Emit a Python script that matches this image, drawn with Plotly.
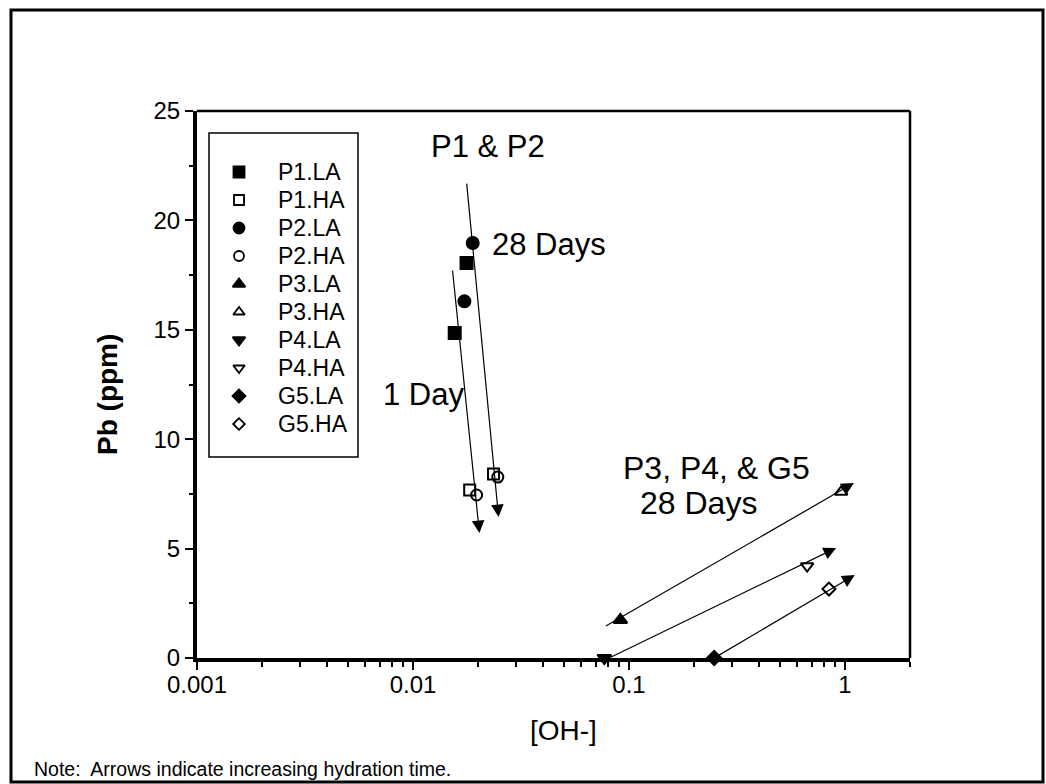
import numpy as np
import plotly.graph_objects as go

# ---------------- data ----------------
series_names = ["P1.LA", "P1.HA", "P2.LA", "P2.HA", "P3.LA",
                "P3.HA", "P4.LA", "P4.HA", "G5.LA", "G5.HA"]

p1_la_oh = [0.0156, 0.0177]
p1_la_pb = [14.85, 18.05]
p1_ha_oh = [0.0183, 0.0236]
p1_ha_pb = [7.68, 8.41]
p2_la_oh = [0.0173, 0.0189]
p2_la_pb = [16.3, 18.97]
p2_ha_oh = [0.0197, 0.0247]
p2_ha_pb = [7.45, 8.27]
p3_la_oh = [0.0912]
p3_la_pb = [1.74]
p3_ha_oh = [0.96]
p3_ha_pb = [7.59]
p4_la_oh = [0.0769]
p4_la_pb = [0.0]
p4_ha_oh = [0.668]
p4_ha_pb = [4.2]
g5_la_oh = [0.248]
g5_la_pb = [0.0]
g5_ha_oh = [0.843]
g5_ha_pb = [3.15]

# arrows (tail -> head), in data units
arrow_tail_oh = [0.01522, 0.0177, 0.0769, 0.081, 0.248]
arrow_tail_pb = [17.78, 21.75, 1.42, 0.0, 0.0]
arrow_head_oh = [0.0203, 0.0249, 1.10, 0.91, 1.11]
arrow_head_pb = [5.71, 6.44, 8.0, 5.03, 3.79]

x_tick_vals = [0.001, 0.01, 0.1, 1]
x_tick_text = ["0.001", "0.01", "0.1", "1"]
y_tick_vals = [0, 5, 10, 15, 20, 25]

series_oh = [p1_la_oh, p1_ha_oh, p2_la_oh, p2_ha_oh, p3_la_oh,
             p3_ha_oh, p4_la_oh, p4_ha_oh, g5_la_oh, g5_ha_oh]
series_pb = [p1_la_pb, p1_ha_pb, p2_la_pb, p2_ha_pb, p3_la_pb,
             p3_ha_pb, p4_la_pb, p4_ha_pb, g5_la_pb, g5_ha_pb]

# ---------------- style ----------------
FONT = "Liberation Sans, Arial, sans-serif"
W, H = 1046, 784
L, R, T, B = 197, 910, 111, 658
symbols = ["square", "square-open", "circle", "circle-open",
           "triangle-up", "triangle-up-open", "triangle-down",
           "triangle-down-open", "diamond", "diamond-open"]
sizes = [12, 11, 12, 11, 12, 11, 12, 11, 11, 10]


def px(x, y):
    """pixel -> paper coordinates"""
    return (x - L) / (R - L), (B - y) / (B - T)


fig = go.Figure()

for name, sx, sy, sym, sz in zip(series_names, series_oh, series_pb, symbols, sizes):
    fig.add_trace(go.Scatter(
        x=sx, y=sy, mode="markers", name=name, showlegend=False,
        cliponaxis=False,
        marker=dict(symbol=sym, size=sz, color="black",
                    line=dict(color="black", width=2)),
    ))

# manual legend (keys on a pixel-scaled overlay axis)
leg_x_sym, leg_x_text, leg_y0, leg_dy = 239, 276, 172, 28
leg_rows = [leg_y0 + leg_dy * i for i in range(len(series_names))]
for i, (name, sym, sz) in enumerate(zip(series_names, symbols, sizes)):
    fig.add_trace(go.Scatter(
        x=[leg_x_sym], y=[leg_rows[i]], xaxis="x2", yaxis="y2",
        mode="markers", showlegend=False, hoverinfo="skip",
        marker=dict(symbol=sym, size=sz - 1, color="black",
                    line=dict(color="black", width=1.8)),
    ))

annotations = []
for i, name in enumerate(series_names):
    ax_, ay_ = px(leg_x_text, leg_rows[i])
    annotations.append(dict(x=ax_, y=ay_, xref="paper", yref="paper",
                            text=name, showarrow=False, xanchor="left",
                            yanchor="middle",
                            font=dict(family=FONT, size=23, color="black")))

# arrows
for tx, ty, hx, hy in zip(arrow_tail_oh, arrow_tail_pb, arrow_head_oh, arrow_head_pb):
    annotations.append(dict(
        x=np.log10(hx), y=hy, ax=np.log10(tx), ay=ty,
        xref="x", yref="y", axref="x", ayref="y",
        showarrow=True, arrowhead=2, arrowsize=2.1, arrowwidth=1.2,
        arrowcolor="black", standoff=0, startstandoff=0, text=""))

# labels inside the plot
def label(text, x, y, size, xanchor="center", bold=False):
    xx, yy = px(x, y)
    annotations.append(dict(x=xx, y=yy, xref="paper", yref="paper",
                            text=("<b>%s</b>" % text) if bold else text,
                            showarrow=False, xanchor=xanchor, yanchor="middle",
                            font=dict(family=FONT, size=size, color="black")))

label("P1 &amp; P2", 488, 146, 31)
label("28 Days", 490, 244, 31, xanchor="left")
label("1 Day", 423, 394, 31)
label("P3, P4, &amp; G5", 716, 468, 32)
label("28 Days", 698, 503, 32)
label("[OH-]", 563, 730, 28)
label("Note:  Arrows indicate increasing hydration time.", 32, 769, 19.5, xanchor="left")

# y-axis title (rotated)
yx, yy = px(107, 395)
annotations.append(dict(x=yx, y=yy, xref="paper", yref="paper",
                        text="<b>Pb (ppm)</b>", textangle=-90, showarrow=False,
                        xanchor="center", yanchor="middle",
                        font=dict(family=FONT, size=28, color="black")))

shapes = []
# legend frame
lx0, ly0 = px(209, 457)
lx1, ly1 = px(358, 133)
shapes.append(dict(type="rect", xref="paper", yref="paper", x0=lx0, y0=ly0,
                   x1=lx1, y1=ly1, line=dict(color="black", width=1.5)))
# top and right plot frame
shapes.append(dict(type="line", xref="paper", yref="paper", x0=0, y0=1, x1=1, y1=1,
                   line=dict(color="black", width=2.5)))
shapes.append(dict(type="line", xref="paper", yref="paper", x0=1, y0=0, x1=1, y1=1,
                   line=dict(color="black", width=2.5)))
# outer frame
ox0, oy0 = px(11, 782)
ox1, oy1 = px(1043, 10)
shapes.append(dict(type="rect", xref="paper", yref="paper", x0=ox0, y0=oy0,
                   x1=ox1, y1=oy1, line=dict(color="black", width=3)))

minor_x = [m * 10.0 ** e for e in (-3, -2, -1) for m in range(2, 10)] + [2.0]

fig.update_layout(
    width=W, height=H, margin=dict(l=L, r=W - R, t=T, b=H - B),
    paper_bgcolor="white", plot_bgcolor="white",
    font=dict(family=FONT, color="black"),
    showlegend=False,
    xaxis=dict(type="log", range=[-3, np.log10(2)], showgrid=False, zeroline=False,
               showline=True, linewidth=4, linecolor="black", mirror=False,
               tickmode="array", tickvals=x_tick_vals, ticktext=x_tick_text,
               ticks="outside", ticklen=8, tickwidth=2, tickcolor="black",
               ticklabelstandoff=-6,
               tickfont=dict(family=FONT, size=24, color="black"),
               minor=dict(tickmode="array", tickvals=minor_x, ticks="outside",
                          ticklen=5, tickwidth=1.5, tickcolor="black", showgrid=False)),
    yaxis=dict(range=[0, 25], showgrid=False, zeroline=False,
               showline=True, linewidth=4, linecolor="black", mirror=False,
               tickmode="array", tickvals=y_tick_vals,
               ticks="outside", ticklen=8, tickwidth=2, tickcolor="black",
               tickfont=dict(family=FONT, size=24, color="black"),
               minor=dict(tickmode="array", tickvals=[2.5, 7.5, 12.5, 17.5, 22.5],
                          ticks="outside", ticklen=4, tickwidth=1.5,
                          tickcolor="black", showgrid=False)),
    xaxis2=dict(overlaying="x", range=[L, R], visible=False, fixedrange=True),
    yaxis2=dict(overlaying="y", range=[B, T], visible=False, fixedrange=True),
    annotations=annotations, shapes=shapes,
)

fig.write_html("out.html")
